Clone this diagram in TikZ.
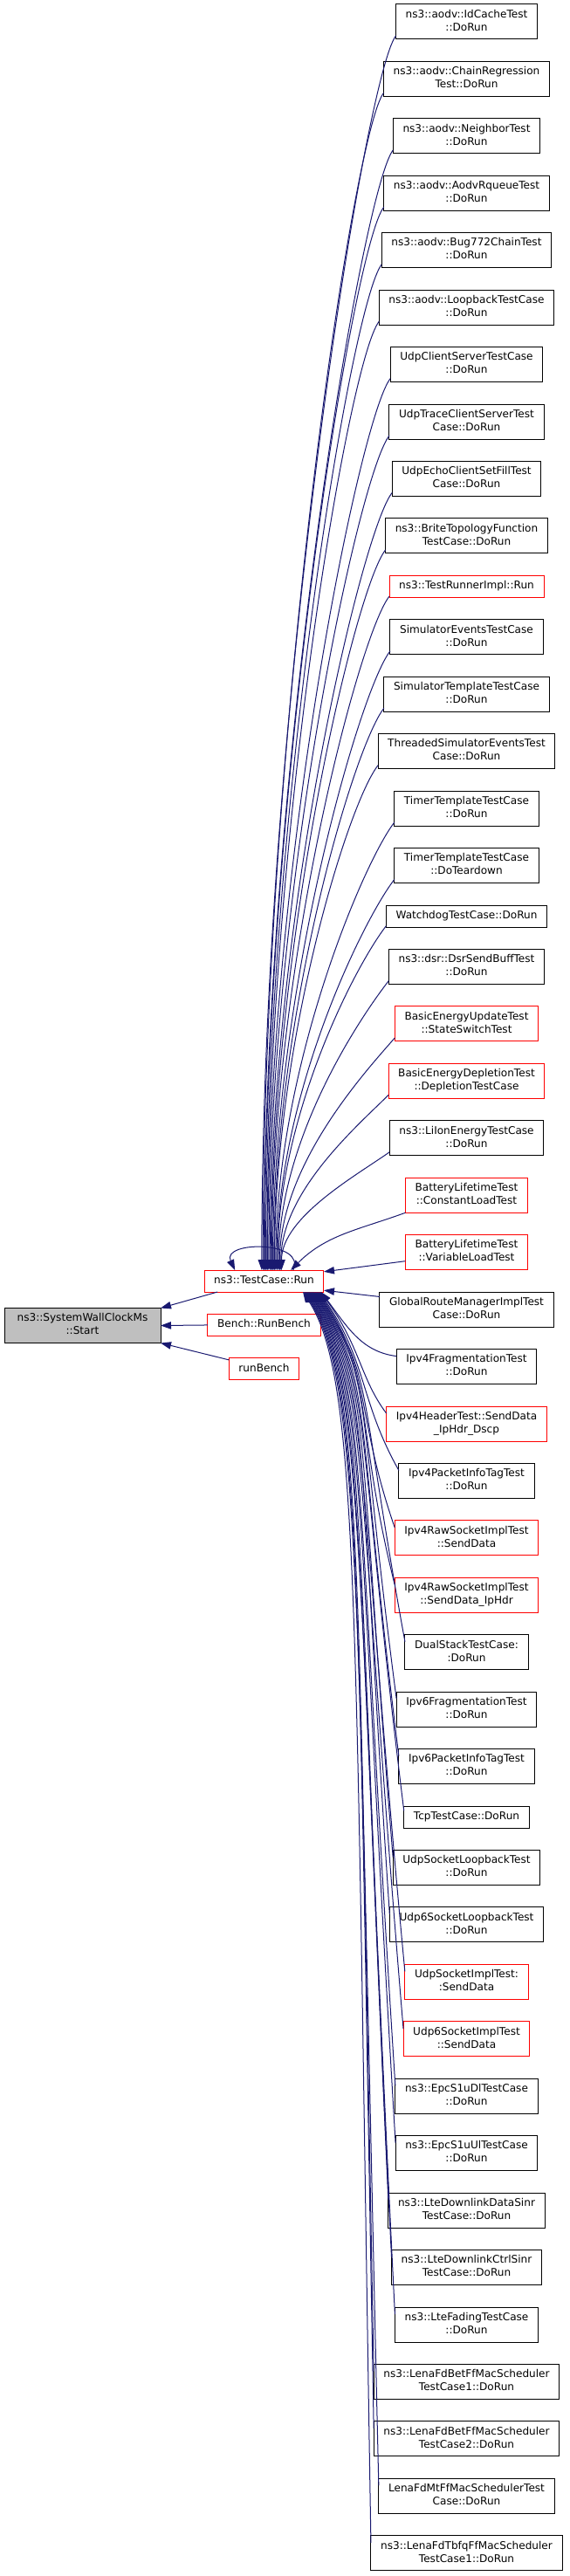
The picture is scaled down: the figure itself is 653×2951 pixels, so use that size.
\documentclass[tikz,border=0pt]{standalone}
\usepackage{fontspec}
\setmainfont{DejaVu Sans}
\usetikzlibrary{positioning, arrows.meta}
\definecolor{midnightblue}{HTML}{191970}
\newcommand{\lnstrut}{\rule[-2.8pt]{0pt}{10pt}}

\begin{document}
\begin{tikzpicture}[
		x=0.75pt, y=0.75pt,
		node distance=19.08pt,
		font=\fontsize{9.07pt}{11.25pt}\selectfont,
		func/.style={draw=black, line width=0.75pt, rectangle, align=center, inner xsep=8.4pt, inner ysep=1pt, outer sep=0pt, minimum height=30pt, execute at begin node=\lnstrut, execute at end node=\lnstrut},
		trunc/.style={func, draw=red},
		oneline/.style={minimum height=18.75pt},
		focus/.style={func, fill=gray!50, minimum width=134.25pt},
		arrow/.style={-{Triangle[length=9pt, width=6.3pt]}, color=midnightblue, line width=0.75pt},
		fromabove/.style={arrow},
		frombelow/.style={arrow}
		]
		\useasboundingbox (0,0) rectangle (653,-2951);
		
		% callers, one column
		\node[func] (idcache) at (534.5,-25) {ns3::aodv::IdCacheTest\\::DoRun};
		\node[func, below=of idcache] (chainreg) {ns3::aodv::ChainRegression\\Test::DoRun};
		\node[func, below=of chainreg] (neighbor) {ns3::aodv::NeighborTest\\::DoRun};
		\node[func, below=of neighbor] (rqueue) {ns3::aodv::AodvRqueueTest\\::DoRun};
		\node[func, below=of rqueue] (bug772) {ns3::aodv::Bug772ChainTest\\::DoRun};
		\node[func, below=of bug772] (loopback) {ns3::aodv::LoopbackTestCase\\::DoRun};
		\node[func, below=of loopback] (udpcs) {UdpClientServerTestCase\\::DoRun};
		\node[func, below=of udpcs] (udptrace) {UdpTraceClientServerTest\\Case::DoRun};
		\node[func, below=of udptrace] (udpecho) {UdpEchoClientSetFillTest\\Case::DoRun};
		\node[func, below=of udpecho] (brite) {ns3::BriteTopologyFunction\\TestCase::DoRun};
		\node[trunc, oneline, below=of brite] (runner) {ns3::TestRunnerImpl::Run};
		\node[func, below=of runner] (simevents) {SimulatorEventsTestCase\\::DoRun};
		\node[func, below=of simevents] (simtemplate) {SimulatorTemplateTestCase\\::DoRun};
		\node[func, below=of simtemplate] (threaded) {ThreadedSimulatorEventsTest\\Case::DoRun};
		\node[func, below=of threaded] (timerrun) {TimerTemplateTestCase\\::DoRun};
		\node[func, below=of timerrun] (timerdown) {TimerTemplateTestCase\\::DoTeardown};
		\node[func, oneline, below=of timerdown] (watchdog) {WatchdogTestCase::DoRun};
		\node[func, below=of watchdog] (dsr) {ns3::dsr::DsrSendBuffTest\\::DoRun};
		\node[trunc, below=of dsr] (energyupd) {BasicEnergyUpdateTest\\::StateSwitchTest};
		\node[trunc, below=of energyupd] (energydep) {BasicEnergyDepletionTest\\::DepletionTestCase};
		\node[func, below=of energydep] (liion) {ns3::LiIonEnergyTestCase\\::DoRun};
		\node[trunc, below=of liion] (battconst) {BatteryLifetimeTest\\::ConstantLoadTest};
		\node[trunc, below=of battconst] (battvar) {BatteryLifetimeTest\\::VariableLoadTest};
		\node[func, below=of battvar] (globalroute) {GlobalRouteManagerImplTest\\Case::DoRun};
		\node[func, below=of globalroute] (ipv4frag) {Ipv4FragmentationTest\\::DoRun};
		\node[trunc, below=of ipv4frag] (ipv4hdr) {Ipv4HeaderTest::SendData\\\_IpHdr\_Dscp};
		\node[func, below=of ipv4hdr] (ipv4tag) {Ipv4PacketInfoTagTest\\::DoRun};
		\node[trunc, below=of ipv4tag] (rawsend) {Ipv4RawSocketImplTest\\::SendData};
		\node[trunc, below=of rawsend] (rawiphdr) {Ipv4RawSocketImplTest\\::SendData\_IpHdr};
		\node[func, below=of rawiphdr] (dualstack) {DualStackTestCase:\\:DoRun};
		\node[func, below=of dualstack] (ipv6frag) {Ipv6FragmentationTest\\::DoRun};
		\node[func, below=of ipv6frag] (ipv6tag) {Ipv6PacketInfoTagTest\\::DoRun};
		\node[func, oneline, below=of ipv6tag] (tcp) {TcpTestCase::DoRun};
		\node[func, below=of tcp] (udploop) {UdpSocketLoopbackTest\\::DoRun};
		\node[func, below=of udploop] (udp6loop) {Udp6SocketLoopbackTest\\::DoRun};
		\node[trunc, below=of udp6loop] (udpimpl) {UdpSocketImplTest:\\:SendData};
		\node[trunc, below=of udpimpl] (udp6impl) {Udp6SocketImplTest\\::SendData};
		\node[func, below=of udp6impl] (epcdl) {ns3::EpcS1uDlTestCase\\::DoRun};
		\node[func, below=of epcdl] (epcul) {ns3::EpcS1uUlTestCase\\::DoRun};
		\node[func, below=of epcul] (ltedata) {ns3::LteDownlinkDataSinr\\TestCase::DoRun};
		\node[func, below=of ltedata] (ltectrl) {ns3::LteDownlinkCtrlSinr\\TestCase::DoRun};
		\node[func, below=of ltectrl] (fading) {ns3::LteFadingTestCase\\::DoRun};
		\node[func, below=of fading] (fdbet1) {ns3::LenaFdBetFfMacScheduler\\TestCase1::DoRun};
		\node[func, below=of fdbet1] (fdbet2) {ns3::LenaFdBetFfMacScheduler\\TestCase2::DoRun};
		\node[func, below=of fdbet2] (fdmt) {LenaFdMtFfMacSchedulerTest\\Case::DoRun};
		\node[func, below=of fdmt] (fdtbfq) {ns3::LenaFdTbfqFfMacScheduler\\TestCase1::DoRun};
		
		% middle and left
		\node[trunc, oneline] (run) at (302.5,-1467.5) {ns3::TestCase::Run};
		\node[trunc, oneline, below=of run] (bench) {Bench::RunBench};
		\node[trunc, oneline, below=of bench] (runbench) {runBench};
		\node[focus] (start) at (94.5,-1518.5) {ns3::SystemWallClockMs\\::Start};
		
		\draw[arrow] ([xshift=-40pt]run.south) -- (start.north east);
		\draw[arrow] (bench.west) -- (start.east);
		\draw[arrow] ([yshift=-1.5pt]runbench.north west) -- (start.south east);
		\draw[arrow] ([xshift=25pt]run.north) to[out=65, in=115, distance=28pt] ([xshift=-25pt]run.north);
		
		% edges from above
		\draw[fromabove] ([yshift=3pt]idcache.south west) .. controls +(-35,-45) and +(0,636) .. ([xshift=-2pt]run.north);
		\draw[fromabove] ([yshift=3pt]chainreg.south west) .. controls +(-35,-45) and +(0,607) .. ([xshift=-1pt]run.north);
		\draw[fromabove] ([yshift=3pt]neighbor.south west) .. controls +(-35,-45) and +(0,577) .. ([xshift=0pt]run.north);
		\draw[fromabove] ([yshift=3pt]rqueue.south west) .. controls +(-35,-45) and +(0,548) .. ([xshift=0.5pt]run.north);
		\draw[fromabove] ([yshift=3pt]bug772.south west) .. controls +(-35,-45) and +(0,518) .. ([xshift=1.5pt]run.north);
		\draw[fromabove] ([yshift=3pt]loopback.south west) .. controls +(-35,-45) and +(0,489) .. ([xshift=2.5pt]run.north);
		\draw[fromabove] ([yshift=3pt]udpcs.south west) .. controls +(-35,-45) and +(0,459) .. ([xshift=3pt]run.north);
		\draw[fromabove] ([yshift=3pt]udptrace.south west) .. controls +(-35,-45) and +(0,430) .. ([xshift=4pt]run.north);
		\draw[fromabove] ([yshift=3pt]udpecho.south west) .. controls +(-35,-45) and +(0,400) .. ([xshift=5pt]run.north);
		\draw[fromabove] ([yshift=3pt]brite.south west) .. controls +(-35,-45) and +(0,371) .. ([xshift=6pt]run.north);
		\draw[fromabove] ([yshift=1pt]runner.south west) .. controls +(-35,-45) and +(0,347) .. ([xshift=6.5pt]run.north);
		\draw[fromabove] ([yshift=3pt]simevents.south west) .. controls +(-35,-45) and +(0,319) .. ([xshift=7.5pt]run.north);
		\draw[fromabove] ([yshift=3pt]simtemplate.south west) .. controls +(-35,-45) and +(0,290) .. ([xshift=8.5pt]run.north);
		\draw[fromabove] ([yshift=3pt]threaded.south west) .. controls +(-35,-45) and +(0,260) .. ([xshift=9pt]run.north);
		\draw[fromabove] ([yshift=3pt]timerrun.south west) .. controls +(-35,-45) and +(0,231) .. ([xshift=10pt]run.north);
		\draw[fromabove] ([yshift=3pt]timerdown.south west) .. controls +(-35,-45) and +(0,201) .. ([xshift=11pt]run.north);
		\draw[fromabove] ([yshift=1pt]watchdog.south west) .. controls +(-35,-45) and +(0,177) .. ([xshift=11.5pt]run.north);
		\draw[fromabove] ([yshift=3pt]dsr.south west) .. controls +(-35,-45) and +(0,149) .. ([xshift=12.5pt]run.north);
		\draw[fromabove] ([yshift=3pt]energyupd.south west) .. controls +(-35,-40) and +(0,120) .. ([xshift=13.5pt]run.north);
		\draw[fromabove] ([yshift=3pt]energydep.south west) .. controls +(-35,-35) and +(0,90) .. ([xshift=14.5pt]run.north);
		\draw[fromabove] ([yshift=3pt]liion.south west) .. controls +(-35,-25) and +(0,61) .. ([xshift=15pt]run.north);
		
		% edges from the side
		\draw[arrow] (battconst.south west) to[out=200, in=45] ([xshift=23pt]run.north);
		\draw[arrow] ([yshift=-7.5pt]battvar.west) -- ([yshift=8pt]run.east);
		\draw[arrow] ([yshift=11pt]globalroute.west) -- ([yshift=-8pt]run.east);
		
		% edges from below
		\draw[frombelow] ([yshift=-6pt]ipv4frag.north west) .. controls +(-40,5) and +(30,-40) .. ([xshift=49pt]run.south);
		\draw[frombelow] ([yshift=-6pt]ipv4hdr.north west) .. controls +(-30,40) and +(45,-60) .. ([xshift=48.3pt]run.south);
		\draw[frombelow] ([yshift=-6pt]ipv4tag.north west) .. controls +(-45,80) and +(55,-80) .. ([xshift=47.5pt]run.south);
		\draw[frombelow] ([yshift=-6pt]rawsend.north west) .. controls +(-45,130) and +(60,-90) .. ([xshift=46.8pt]run.south);
		\draw[frombelow] ([yshift=-6pt]rawiphdr.north west) .. controls +(-45,180) and +(65,-100) .. ([xshift=46pt]run.south);
		\draw[frombelow] ([yshift=-6pt]dualstack.north west) .. controls +(-55,301) and +(65,-100) .. ([xshift=45.3pt]run.south);
		\draw[frombelow] ([yshift=-6pt]ipv6frag.north west) .. controls +(-46,350) and +(65,-100) .. ([xshift=44.5pt]run.south);
		\draw[frombelow] ([yshift=-6pt]ipv6tag.north west) .. controls +(-50,399) and +(65,-100) .. ([xshift=43.8pt]run.south);
		\draw[frombelow] ([yshift=-4pt]tcp.north west) .. controls +(-55,446) and +(65,-100) .. ([xshift=43pt]run.south);
		\draw[frombelow] ([yshift=-6pt]udploop.north west) .. controls +(-40,486) and +(65,-100) .. ([xshift=42.3pt]run.south);
		\draw[frombelow] ([yshift=-6pt]udp6loop.north west) .. controls +(-36,535) and +(65,-100) .. ([xshift=41.6pt]run.south);
		\draw[frombelow] ([yshift=-6pt]udpimpl.north west) .. controls +(-55,584) and +(65,-100) .. ([xshift=40.8pt]run.south);
		\draw[frombelow] ([yshift=-6pt]udp6impl.north west) .. controls +(-53,633) and +(65,-100) .. ([xshift=40.1pt]run.south);
		\draw[frombelow] ([yshift=-6pt]epcdl.north west) .. controls +(-44,682) and +(65,-100) .. ([xshift=39.3pt]run.south);
		\draw[frombelow] ([yshift=-6pt]epcul.north west) .. controls +(-44,731) and +(65,-100) .. ([xshift=38.6pt]run.south);
		\draw[frombelow] ([yshift=-6pt]ltedata.north west) .. controls +(-36,780) and +(65,-100) .. ([xshift=37.9pt]run.south);
		\draw[frombelow] ([yshift=-6pt]ltectrl.north west) .. controls +(-41,830) and +(65,-100) .. ([xshift=37.1pt]run.south);
		\draw[frombelow] ([yshift=-6pt]fading.north west) .. controls +(-44,878) and +(65,-100) .. ([xshift=36.4pt]run.south);
		\draw[frombelow] ([yshift=-6pt]fdbet1.north west) .. controls +(-18,927) and +(65,-100) .. ([xshift=35.6pt]run.south);
		\draw[frombelow] ([yshift=-6pt]fdbet2.north west) .. controls +(-18,977) and +(65,-100) .. ([xshift=34.9pt]run.south);
		\draw[frombelow] ([yshift=-6pt]fdmt.north west) .. controls +(-24,1025) and +(65,-100) .. ([xshift=34.2pt]run.south);
		\draw[frombelow] ([yshift=-6pt]fdtbfq.north west) .. controls +(-18,1075) and +(65,-100) .. ([xshift=33.4pt]run.south);
		
	\end{tikzpicture}
\end{document}
